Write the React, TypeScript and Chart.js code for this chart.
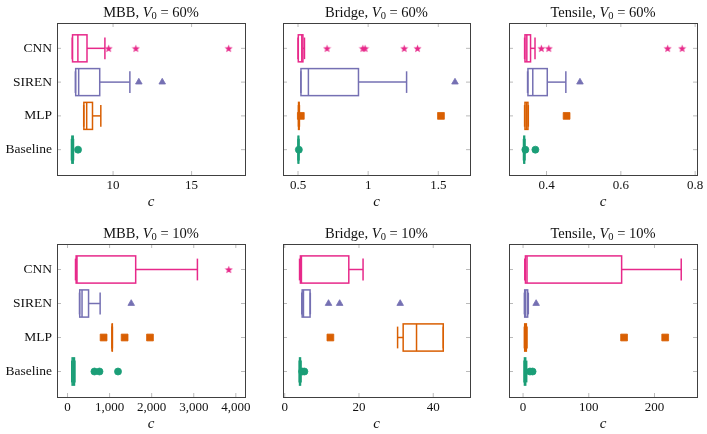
import React, { useEffect, useRef } from "react";
import { Chart, registerables } from "chart.js";

Chart.register(...registerables);

// ---------- data ----------
const METHODS = ["Baseline", "MLP", "SIREN", "CNN"];
const PROBLEMS = ["MBB", "Bridge", "Tensile"];
const VOLUMES = ["60%", "10%"];

// each entry: [lower whisker, Q1, median, Q3, upper whisker]; order Baseline, MLP, SIREN, CNN
const mbb60Stats = [
  [7.35, 7.38, 7.41, 7.46, 7.48],
  [8.13, 8.14, 8.32, 8.69, 9.22],
  [7.6, 7.62, 7.81, 9.15, 11.07],
  [7.4, 7.42, 7.76, 8.34, 9.48],
];
const mbb60Outliers = [[7.77], [], [11.64, 13.13], [9.72, 11.45, 17.36]];
const mbb60Ticks = [10, 15];

const bridge60Stats = [
  [0.5, 0.501, 0.503, 0.505, 0.507],
  [0.503, 0.504, 0.506, 0.508, 0.51],
  [0.52, 0.521, 0.574, 0.931, 1.274],
  [0.5, 0.502, 0.527, 0.535, 0.546],
];
const bridge60Outliers = [[0.506], [0.52, 1.519], [1.619], [0.707, 0.962, 0.978, 1.257, 1.352]];
const bridge60Ticks = [0.5, 1, 1.5];

const tensile60Stats = [
  [0.338, 0.339, 0.34, 0.341, 0.342],
  [0.341, 0.342, 0.346, 0.35, 0.351],
  [0.349, 0.35, 0.363, 0.402, 0.452],
  [0.341, 0.342, 0.347, 0.357, 0.369],
];
const tensile60Outliers = [[0.343, 0.37], [0.454], [0.49], [0.386, 0.406, 0.726, 0.765]];
const tensile60Ticks = [0.4, 0.6, 0.8];

const mbb10Stats = [
  [100, 110, 140, 165, 175],
  [1060, 1061, 1063, 1065, 1066],
  [285, 290, 345, 500, 775],
  [190, 205, 225, 1620, 3087],
];
const mbb10Outliers = [[640, 760, 1200], [857, 1357, 1960], [1514], [3833]];
const mbb10Ticks = [0, 1000, 2000, 3000, 4000];

const bridge10Stats = [
  [3.9, 4.0, 4.13, 4.25, 4.4],
  [30.4, 31.9, 35.5, 42.7, 42.7],
  [4.6, 4.7, 5.05, 6.83, 6.9],
  [4.0, 4.23, 4.5, 17.26, 21.1],
];
const bridge10Outliers = [[4.7, 5.3], [12.3], [11.8, 14.8, 31.1], []];
const bridge10Ticks = [0, 20, 40];

const tensile10Stats = [
  [1.5, 2.1, 3.0, 4.0, 5.5],
  [2.0, 2.5, 3.5, 5.0, 6.0],
  [2.0, 2.5, 4.0, 7.0, 8.0],
  [2.6, 3.6, 6.0, 150, 240.7],
];
const tensile10Outliers = [[10.5, 14.5], [153.7, 216.3], [19.9], []];
const tensile10Ticks = [0, 100, 200];

// axis ranges
const xRanges = [
  [6.43, 18.4], [0.393, 1.726], [0.299, 0.805],
  [-250, 4218], [-0.46, 49.9], [-21.4, 264.7],
];

// ---------- styling ----------
const COLORS = ["#1b9e77", "#d95f02", "#7570b3", "#e7298a"];
const FONT = '"Liberation Serif", "Times New Roman", serif';
const COLS = [[57, 245], [283, 470], [509, 697]];
const ROWS = [[23, 175], [244, 397]];
const TITLE_Y = [13, 234];
const X_AXIS_H = [36, 36];

function makeStar(color: string) {
  const c = document.createElement("canvas");
  c.width = 9;
  c.height = 9;
  const g = c.getContext("2d")!;
  g.beginPath();
  for (let k = 0; k < 10; k++) {
    const r = k % 2 === 0 ? 4.2 : 1.8;
    const a = -Math.PI / 2 + (k * Math.PI) / 5;
    const px = 4.5 + r * Math.cos(a);
    const py = 4.9 + r * Math.sin(a);
    if (k === 0) g.moveTo(px, py);
    else g.lineTo(px, py);
  }
  g.closePath();
  g.fillStyle = color;
  g.fill();
  return c;
}

type PanelCfg = {
  row: number;
  col: number;
  stats: number[][];
  outliers: number[][];
  ticks: number[];
  range: number[];
};

const PANELS: PanelCfg[] = [
  { row: 0, col: 0, stats: mbb60Stats, outliers: mbb60Outliers, ticks: mbb60Ticks, range: xRanges[0] },
  { row: 0, col: 1, stats: bridge60Stats, outliers: bridge60Outliers, ticks: bridge60Ticks, range: xRanges[1] },
  { row: 0, col: 2, stats: tensile60Stats, outliers: tensile60Outliers, ticks: tensile60Ticks, range: xRanges[2] },
  { row: 1, col: 0, stats: mbb10Stats, outliers: mbb10Outliers, ticks: mbb10Ticks, range: xRanges[3] },
  { row: 1, col: 1, stats: bridge10Stats, outliers: bridge10Outliers, ticks: bridge10Ticks, range: xRanges[4] },
  { row: 1, col: 2, stats: tensile10Stats, outliers: tensile10Outliers, ticks: tensile10Ticks, range: xRanges[5] },
];

function fmtTick(v: number) {
  if (Math.abs(v) >= 1000) return v.toLocaleString("en-US");
  return String(v);
}

function makeConfig(p: PanelCfg): any {
  const [L, R] = COLS[p.col];
  const [T, B] = ROWS[p.row];
  const showY = p.col === 0;
  const yW = showY ? 57 : 10;
  const xH = X_AXIS_H[p.row];

  const star = makeStar(COLORS[3]);
  const styles: any[] = ["circle", "rect", "triangle", star];
  const radii = [3.5, 4.8, 3.8, 4.5];

  const datasets = METHODS.map((m, i) => ({
    type: "scatter",
    label: m,
    data: p.outliers[i].map((v) => ({ x: v, y: i + 1 })),
    pointStyle: styles[i],
    pointRadius: radii[i],
    pointHoverRadius: radii[i],
    backgroundColor: COLORS[i],
    borderColor: COLORS[i],
    borderWidth: 0.8,
    showLine: false,
  }));

  const boxPlugin = {
    id: "boxplot-" + p.row + "-" + p.col,
    beforeDatasetsDraw(chart: any) {
      const ctx = chart.ctx;
      const xs = chart.scales.x;
      const ys = chart.scales.y;
      ctx.save();
      p.stats.forEach((s, i) => {
        const yv = i + 1;
        const yc = ys.getPixelForValue(yv);
        const bTop = ys.getPixelForValue(yv + 0.4);
        const bBot = ys.getPixelForValue(yv - 0.4);
        const cTop = ys.getPixelForValue(yv + 0.32);
        const cBot = ys.getPixelForValue(yv - 0.32);
        const [lw, q1, med, q3, uw] = s.map((v) => xs.getPixelForValue(v));
        ctx.strokeStyle = COLORS[i];
        ctx.lineWidth = 1.5;
        const line = (x1: number, y1: number, x2: number, y2: number) => {
          ctx.beginPath();
          ctx.moveTo(x1, y1);
          ctx.lineTo(x2, y2);
          ctx.stroke();
        };
        line(lw, yc, q1, yc);
        line(q3, yc, uw, yc);
        line(lw, cTop, lw, cBot);
        line(uw, cTop, uw, cBot);
        ctx.strokeRect(q1, bTop, q3 - q1, bBot - bTop);
        line(med, bTop, med, bBot);
      });
      ctx.restore();
    },
    afterDraw(chart: any) {
      const ctx = chart.ctx;
      const a = chart.chartArea;
      const xs = chart.scales.x;
      const ys = chart.scales.y;
      ctx.save();
      // inward tick marks
      ctx.strokeStyle = "#a8a8a8";
      ctx.lineWidth = 0.8;
      p.ticks.forEach((v) => {
        const x = xs.getPixelForValue(v);
        ctx.beginPath();
        ctx.moveTo(x, a.bottom);
        ctx.lineTo(x, a.bottom - 4);
        ctx.moveTo(x, a.top);
        ctx.lineTo(x, a.top + 4);
        ctx.stroke();
      });
      [1, 2, 3, 4].forEach((v) => {
        const y = ys.getPixelForValue(v);
        ctx.beginPath();
        ctx.moveTo(a.left, y);
        ctx.lineTo(a.left + 4, y);
        ctx.moveTo(a.right, y);
        ctx.lineTo(a.right - 4, y);
        ctx.stroke();
      });
      // frame
      ctx.strokeStyle = "#404040";
      ctx.lineWidth = 1;
      ctx.strokeRect(Math.round(a.left) + 0.5, Math.round(a.top) + 0.5, Math.round(a.right - a.left), Math.round(a.bottom - a.top));
      // title with subscript
      const parts = [
        { t: PROBLEMS[p.col] + ", ", f: "14.5px " + FONT, dy: 0 },
        { t: "V", f: "italic 14.5px " + FONT, dy: 0 },
        { t: "0", f: "10.5px " + FONT, dy: 3 },
        { t: " = " + VOLUMES[p.row], f: "14.5px " + FONT, dy: 0 },
      ];
      let total = 0;
      parts.forEach((q) => {
        ctx.font = q.f;
        total += ctx.measureText(q.t).width;
      });
      let x = (a.left + a.right) / 2 - total / 2;
      const y = TITLE_Y[p.row];
      ctx.fillStyle = "#111";
      ctx.textBaseline = "middle";
      ctx.textAlign = "left";
      parts.forEach((q) => {
        ctx.font = q.f;
        ctx.fillText(q.t, x, y + q.dy);
        x += ctx.measureText(q.t).width;
      });
      ctx.restore();
    },
  };

  return {
    type: "scatter",
    data: { datasets },
    plugins: [boxPlugin],
    options: {
      responsive: false,
      animation: false,
      devicePixelRatio: 1,
      events: [],
      layout: {
        padding: { left: L - yW, right: 707 - R, top: T, bottom: 434 - B - xH },
      },
      plugins: {
        legend: { display: false },
        tooltip: { enabled: false },
        title: { display: false },
      },
      scales: {
        x: {
          type: "linear",
          position: "bottom",
          min: p.range[0],
          max: p.range[1],
          grid: { display: false, drawTicks: false },
          border: { display: false },
          ticks: {
            autoSkip: false,
            maxRotation: 0,
            padding: 3,
            color: "#111",
            font: { family: FONT, size: 13 },
            callback: (v: number) => fmtTick(v),
          },
          afterBuildTicks: (s: any) => {
            s.ticks = p.ticks.map((v) => ({ value: v }));
          },
          afterFit: (s: any) => {
            s.height = xH;
          },
          title: {
            display: true,
            text: "c",
            color: "#111",
            padding: 0,
            font: { family: FONT, size: 15, style: "italic" },
          },
        },
        y: {
          type: "linear",
          position: "left",
          min: 0.25,
          max: 4.75,
          grid: { display: false, drawTicks: false },
          border: { display: false },
          ticks: {
            display: showY,
            padding: 5,
            color: "#111",
            font: { family: FONT, size: 13.5 },
            callback: (v: number) => METHODS[v - 1] ?? "",
          },
          afterBuildTicks: (s: any) => {
            s.ticks = [1, 2, 3, 4].map((v) => ({ value: v }));
          },
          afterFit: (s: any) => {
            s.width = yW;
          },
        },
      },
    },
  };
}

function Panel({ cfg }: { cfg: PanelCfg }) {
  const ref = useRef<HTMLCanvasElement | null>(null);
  useEffect(() => {
    if (!ref.current) return;
    const chart = new Chart(ref.current, makeConfig(cfg));
    return () => chart.destroy();
  }, [cfg]);
  return (
    <canvas
      ref={ref}
      width={707}
      height={434}
      style={{ position: "absolute", left: 0, top: 0, width: 707, height: 434 }}
    />
  );
}

export default function App() {
  return (
    <div
      style={{
        position: "absolute",
        left: 0,
        top: 0,
        width: 707,
        height: 434,
        background: "#ffffff",
        overflow: "hidden",
      }}
    >
      {PANELS.map((p, i) => (
        <Panel key={i} cfg={p} />
      ))}
    </div>
  );
}
